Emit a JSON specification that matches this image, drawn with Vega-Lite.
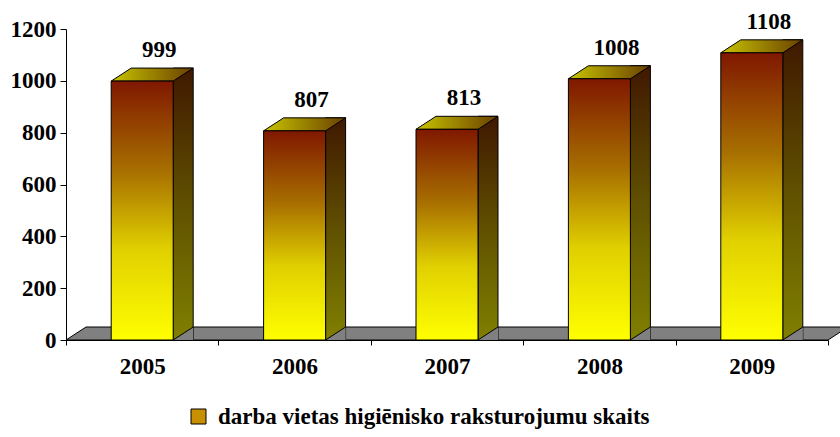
{
  "$schema": "https://vega.github.io/schema/vega-lite/v6.json",
  "autosize": "none",
  "width": 762,
  "height": 311,
  "padding": {"left": 66, "top": 29, "right": 12, "bottom": 97},
  "background": "white",
  "config": {
    "view": {"stroke": null},
    "font": "Liberation Serif"
  },
  "data": {
    "values": [
      {"year": "2005", "value": 999},
      {"year": "2006", "value": 807},
      {"year": "2007", "value": 813},
      {"year": "2008", "value": 1008},
      {"year": "2009", "value": 1108}
    ]
  },
  "encoding": {
    "x": {
      "field": "year",
      "type": "nominal",
      "scale": {"paddingInner": 0, "paddingOuter": 0},
      "axis": {
        "title": null,
        "labelAngle": 0,
        "tickBand": "extent",
        "tickSize": 5,
        "tickColor": "black",
        "domainColor": "black",
        "labelFont": "Liberation Serif",
        "labelFontWeight": "bold",
        "labelFontSize": 23,
        "labelColor": "black",
        "labelPadding": 10
      }
    }
  },
  "layer": [
    {
      "transform": [{"filter": "datum.year == '2007'"}],
      "mark": {
        "type": "point",
        "filled": true,
        "shape": "M-0.9501,0 L-0.9002,-0.0324 L1,-0.0324 L0.9501,0 Z",
        "size": 643204,
        "fill": "#808080",
        "stroke": "black",
        "strokeWidth": 1,
        "opacity": 1
      },
      "encoding": {
        "y": {"datum": 0, "type": "quantitative", "scale": {"domain": [0, 1200], "nice": false}}
      }
    },
    {
      "mark": {
        "type": "bar",
        "width": 20,
        "xOffset": 41,
        "yOffset": -13,
        "y2Offset": 0,
        "stroke": "black",
        "strokeWidth": 1,
        "fill": {
          "gradient": "linear", "x1": 0, "y1": 1, "x2": 0, "y2": 0,
          "stops": [
            {"offset": 0, "color": "#808000"},
            {"offset": 0.5, "color": "#605000"},
            {"offset": 1, "color": "#401800"}
          ]
        }
      },
      "encoding": {
        "y": {"field": "value", "type": "quantitative"},
        "y2": {"datum": 0}
      }
    },
    {
      "mark": {
        "type": "point",
        "filled": true,
        "shape": "M0.6078,0 L1,0 L1,-0.2549 Z",
        "size": 10404,
        "fill": "#808080",
        "strokeWidth": 0,
        "opacity": 1
      },
      "encoding": {
        "y": {"datum": 0, "type": "quantitative"}
      }
    },
    {
      "mark": {
        "type": "point",
        "filled": false,
        "shape": "M0.6078,0 L1,-0.2549",
        "size": 10404,
        "stroke": "black",
        "strokeWidth": 1,
        "opacity": 1
      },
      "encoding": {
        "y": {"datum": 0, "type": "quantitative"}
      }
    },
    {
      "mark": {
        "type": "point",
        "filled": true,
        "shape": "M-0.6078,0 L0.6078,0 L1,-0.2549 L-0.2157,-0.2549 Z",
        "size": 10404,
        "opacity": 1,
        "stroke": "black",
        "strokeWidth": 1,
        "fill": {
          "gradient": "linear", "x1": 0, "y1": 0, "x2": 1, "y2": 0,
          "stops": [
            {"offset": 0, "color": "#c8c400"},
            {"offset": 1, "color": "#6a4000"}
          ]
        }
      },
      "encoding": {
        "y": {"field": "value", "type": "quantitative"}
      }
    },
    {
      "mark": {
        "type": "bar",
        "width": 62,
        "stroke": "black",
        "strokeWidth": 1,
        "fill": {
          "gradient": "linear", "x1": 0, "y1": 1, "x2": 0, "y2": 0,
          "stops": [
            {"offset": 0, "color": "#ffff00"},
            {"offset": 0.35, "color": "#e0d000"},
            {"offset": 0.65, "color": "#a87000"},
            {"offset": 1, "color": "#801800"}
          ]
        }
      },
      "encoding": {
        "y": {"field": "value", "type": "quantitative",
          "axis": {
            "title": null,
            "values": [0, 200, 400, 600, 800, 1000, 1200],
            "format": "d",
            "grid": false,
            "domainColor": "black",
            "tickColor": "black",
            "tickSize": 6,
            "labelPadding": 4,
            "labelFont": "Liberation Serif",
            "labelFontWeight": "bold",
            "labelFontSize": 23,
            "labelColor": "black"
          }
        },
        "y2": {"datum": 0}
      }
    },
    {
      "mark": {"type": "point", "filled": true, "size": 0, "opacity": 1},
      "encoding": {
        "y": {"field": "value", "type": "quantitative"},
        "fill": {
          "datum": "darba vietas higiēnisko raksturojumu skaits",
          "type": "nominal",
          "scale": {"range": ["#c89000"]},
          "legend": {
            "title": null,
            "orient": "none",
            "legendX": 121,
            "legendY": 376,
            "symbolType": "square",
            "symbolSize": 225,
            "symbolStrokeColor": "black",
            "symbolStrokeWidth": 1,
            "symbolOpacity": 1,
            "labelFont": "Liberation Serif",
            "labelFontWeight": "bold",
            "labelFontSize": 23,
            "labelColor": "black",
            "labelLimit": 600,
            "labelOffset": 8,
            "encode": {
              "symbols": {
                "enter": {
                  "fill": {"value": {
                    "gradient": "linear", "x1": 0, "y1": 1, "x2": 0, "y2": 0,
                    "stops": [
                      {"offset": 0, "color": "#ffff00"},
                      {"offset": 0.5, "color": "#c8a000"},
                      {"offset": 1, "color": "#801800"}
                    ]
                  }}
                },
                "update": {
                  "fill": {"value": {
                    "gradient": "linear", "x1": 0, "y1": 1, "x2": 0, "y2": 0,
                    "stops": [
                      {"offset": 0, "color": "#ffff00"},
                      {"offset": 0.5, "color": "#c8a000"},
                      {"offset": 1, "color": "#801800"}
                    ]
                  }},
                  "stroke": {"value": "black"}
                }
              }
            }
          }
        }
      }
    },
    {
      "mark": {
        "type": "text",
        "dx": 17,
        "dy": -24,
        "baseline": "alphabetic",
        "font": "Liberation Serif",
        "fontWeight": "bold",
        "fontSize": 23,
        "color": "black"
      },
      "encoding": {
        "y": {"field": "value", "type": "quantitative"},
        "text": {"field": "value", "type": "quantitative"}
      }
    }
  ]
}
